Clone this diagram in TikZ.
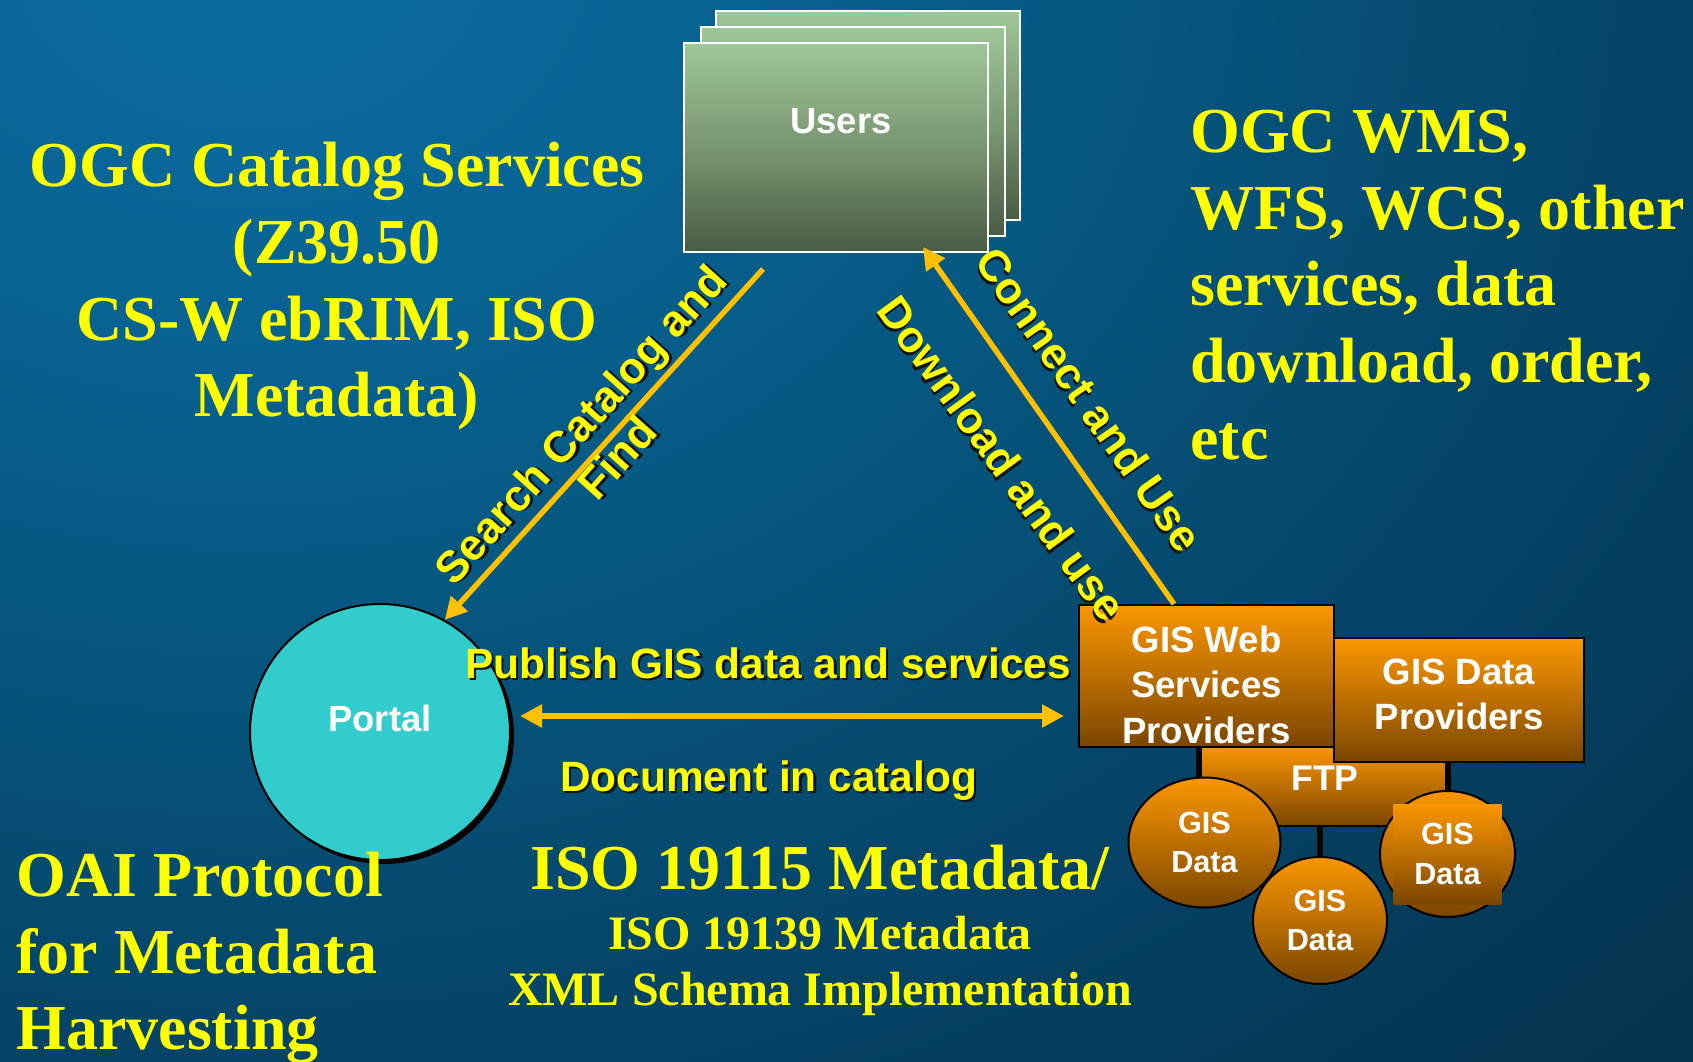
\documentclass[tikz,border=0pt]{standalone}
\usepackage{fontspec}
\setmainfont{Liberation Serif}
\newfontfamily\arialf{Liberation Sans}
\usetikzlibrary{arrows.meta,shapes.geometric,shadows,calc}
\definecolor{bgA}{HTML}{0B6CA2}
\definecolor{bgB}{HTML}{086393}
\definecolor{bgC}{HTML}{06547C}
\definecolor{bgD}{HTML}{054366}
\definecolor{bgE}{HTML}{033651}
\definecolor{bgF}{HTML}{022D46}
\definecolor{bgG}{HTML}{022A42}
\definecolor{ylw}{HTML}{FFFF00}
\definecolor{arrowc}{HTML}{FFC000}
\definecolor{txtshd}{HTML}{141414}
\definecolor{usrT}{HTML}{9FC69A}
\definecolor{usrM}{HTML}{789670}
\definecolor{usrB}{HTML}{4A5B45}
\definecolor{orT}{HTML}{FA9600}
\definecolor{orM}{HTML}{BD6F02}
\definecolor{orB}{HTML}{7A4600}
\definecolor{portalc}{HTML}{33CCCC}
\newcommand{\shd}[1]{\makebox[0pt][l]{\kern1.2pt\raisebox{-1.2pt}{\textcolor{txtshd}{#1}}}#1}
\pgfdeclareradialshading{bgshade}{\pgfpointorigin}{color(0bp)=(bgA); color(3.75bp)=(bgB); color(7.5bp)=(bgC); color(11.25bp)=(bgD); color(15bp)=(bgE); color(20bp)=(bgF); color(25bp)=(bgG); color(50bp)=(bgG)}
\tikzset{
  bigser/.style={text=ylw, font=\bfseries\fontsize{32pt}{38.35pt}\selectfont, inner sep=0pt},
  lbl/.style={text=ylw, font=\arialf\bfseries\fontsize{21.2pt}{25pt}\selectfont, inner sep=0pt},
  rlbl/.style={text=ylw, font=\arialf\bfseries\fontsize{22pt}{25pt}\selectfont, inner sep=0pt, align=center},
  card/.style={rectangle, draw=white, line width=1pt, minimum width=152pt, minimum height=104.5pt, inner sep=0pt, top color=usrT, bottom color=usrB, middle color=usrM},
  orbox/.style={rectangle, draw=black, line width=1pt, inner sep=0pt, top color=orT, bottom color=orB, middle color=orM, text=white, align=center, font=\arialf\bfseries\fontsize{18.3pt}{22.7pt}\selectfont},
  gisell/.style={ellipse, draw=black, line width=1pt, inner sep=0pt, top color=orT, bottom color=orB, middle color=orM, text=white, align=center, font=\arialf\bfseries\fontsize{15.3pt}{19.7pt}\selectfont},
  orrect/.style={rectangle, inner sep=0pt, top color=orT, bottom color=orB, middle color=orM, text=white, align=center, font=\arialf\bfseries\fontsize{15.3pt}{19.7pt}\selectfont},
  arr/.style={draw=arrowc, line width=2.7pt, -{Triangle[length=11pt,width=11pt]}},
  darr/.style={draw=arrowc, line width=2.7pt, {Triangle[length=11pt,width=11pt]}-{Triangle[length=11pt,width=11pt]}},
  conn/.style={draw=black, line width=2.6pt},
}
\begin{document}
\begin{tikzpicture}[x=0.5pt,y=-0.5pt]
\useasboundingbox (0,0) rectangle (1693,1061);
\begin{scope}
  \clip (0,0) rectangle (1693,1061);
  \shade[shading=bgshade] (250,-60) ellipse [x radius=1600pt, y radius=1250pt];
\end{scope}

% Users cards
\node[card] (users3) at (868,115.5) {};
\node[card] (users2) at (852.5,131.5) {};
\node[card, text=white, font=\arialf\bfseries\fontsize{18.2pt}{22pt}\selectfont] (users) at (836,147.5) {\hspace*{5pt}Users\rule[-26.5pt]{0pt}{26.5pt}};

% Portal
\node[ellipse, draw=black, line width=1pt, fill=portalc, minimum width=130pt, minimum height=128pt, inner sep=0pt, text=white, font=\arialf\bfseries\fontsize{18.2pt}{22pt}\selectfont, drop shadow={shadow xshift=2pt, shadow yshift=-2pt, opacity=1, fill=black}] (portal) at (380,732) {Portal\rule[-14pt]{0pt}{14pt}};

% Provider boxes
\node[orbox, minimum width=125pt, minimum height=40.5pt, font=\arialf\bfseries\fontsize{17.8pt}{21pt}\selectfont] (ftp) at (1325,785.5) {FTP\rule[-7pt]{0pt}{7pt}};
\node[orbox, minimum width=125pt, minimum height=62pt] (data) at (1459,700) {GIS Data\\Providers\rule[-6pt]{0pt}{6pt}};
\node[orbox, minimum width=127.5pt, minimum height=71pt] (web) at (1206.5,676) {\rule{0pt}{22pt}GIS Web\\Services\\Providers};

% GIS data ellipses
\coordinate (gLc) at (1204.5,842.5);
\coordinate (gBc) at (1320,920.5);
\coordinate (gRc) at (1447.5,854);
\draw[conn] (web.south -| ftp.west) -- (gLc -| ftp.west);
\draw[conn] (ftp.south -| gBc) -- (gBc);
\draw[conn] (data.south -| gRc) -- (gRc);
\node[gisell, minimum width=67pt, minimum height=63.5pt] (gisB) at (gBc) {GIS\\Data};
\node[gisell, minimum width=76pt, minimum height=65pt] (gisL) at (gLc) {GIS\\Data};
\node[gisell, minimum width=67.5pt, minimum height=63pt] (gisR) at (gRc) {};
\node[orrect, minimum width=54pt, minimum height=50pt] (gisRt) at (gRc) {GIS\\Data};

% Arrows
\coordinate (sStart) at ([shift={(-73,16)}]users.south);
\draw[arr] (sStart) -- (portal.60);
\coordinate (cTip) at ([shift={(87,-6)}]users.south);
\draw[arr] ([shift={(-32.5,0)}]web.north) -- (cTip);
\draw[darr] ([shift={(9,-16)}]portal.east) -- ([shift={(-14,40)}]web.west);

% Arrow labels
\node[lbl, anchor=base] (pub) at (768,678) {\shd{Publish GIS data and services}};
\node[lbl, anchor=base] (doc) at (768.5,791) {\shd{Document in catalog}};
\node[rlbl, rotate=48] (searchlbl) at (599.5,442) {\shd{Search Catalog and}\\\shd{Find}};
\node[rlbl, rotate=-55] (connlbl) at (1088,400) {\shd{Connect and Use}};
\node[rlbl, rotate=-54] (dllbl) at (1001,459) {\shd{Download and use}};

% Large texts
\node[bigser, align=center] (ogccat) at (337,286.5) {OGC Catalog Services\\(Z39.50\\CS-W ebRIM, ISO\\Metadata)};
\node[bigser, align=left, anchor=west] (ogcwms) at (1190,285) {OGC WMS,\\WFS, WCS, other\\services, data\\download, order,\\etc};
\node[bigser, align=left, anchor=west] (oai) at (16,958) {OAI Protocol\\for Metadata\\Harvesting};
\node[text=ylw, font=\bfseries\fontsize{32pt}{38pt}\selectfont, inner sep=0pt, anchor=base] (iso1) at (820,889) {ISO 19115 Metadata/};
\node[text=ylw, font=\bfseries\fontsize{24pt}{28pt}\selectfont, inner sep=0pt, align=center] (iso2) at (820,966) {ISO 19139 Metadata\\XML Schema Implementation};
\end{tikzpicture}
\end{document}
